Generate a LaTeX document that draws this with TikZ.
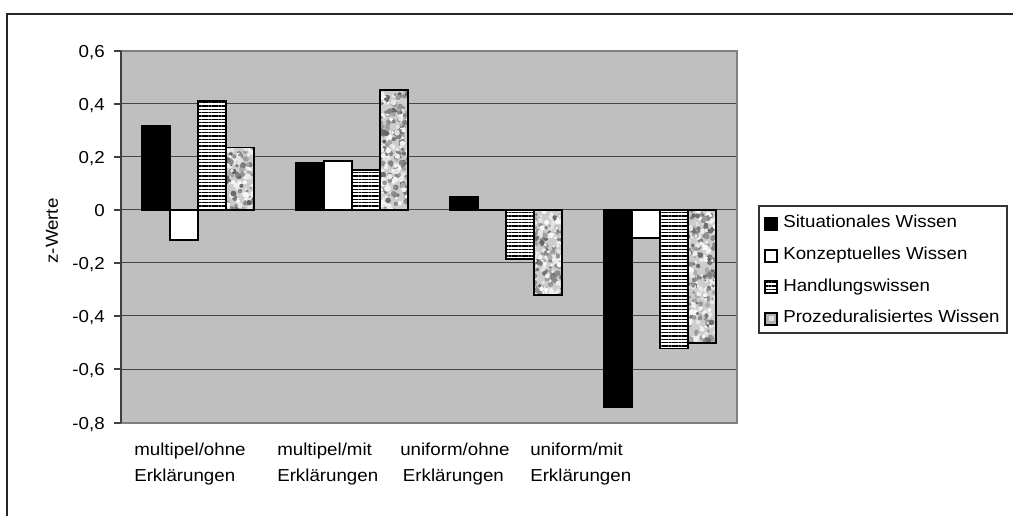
\documentclass[tikz,border=0pt]{standalone}
\usepackage{fontspec}
\setmainfont{Liberation Sans}[FakeStretch=1.08]
\usetikzlibrary{patterns.meta}

\tikzset{
  lbl/.style={font=\fontsize{13}{19.5}\selectfont, inner sep=0pt},
  gridline/.style={draw=black!72, line width=0.75pt},
  bar/.style={draw=black, line width=1.1pt},
  sitbar/.style={bar, fill=black},
  konbar/.style={bar, fill=white},
  handbar/.style={bar, preaction={fill=white}, pattern={Lines[angle=0,distance=2.5pt,line width=1.1pt]}},
  legmark/.style={line width=0.9pt},
}

% z-Wert -> pixel row (0 at 210, 0.2 per 53 px)
\newcommand\zrow[1]{210-265*#1}
% textured bar for Prozeduralisiertes Wissen
\newcommand\procbar[2]{%
  \begin{scope}
    \clip (#1,210) rectangle ({#1+28},{\zrow{#2}});
    \fill[black!20] (#1,210) rectangle ({#1+28},{\zrow{#2}});
    \pgfmathsetmacro\nblob{int(10+520*abs(#2))}
    \foreach \k in {1,...,\nblob}{
      \pgfmathsetmacro\shade{rnd<0.55 ? int(32+30*rnd) : int(2+10*rnd)}
      \fill[black!\shade] ({#1+28*rnd},{210-265*#2*rnd}) circle[radius={1.3+1.7*rnd}];
    }
  \end{scope}
  \draw[bar] (#1,210) rectangle ({#1+28},{\zrow{#2}});
}

\begin{document}
\begin{tikzpicture}[x=0.75pt,y=-0.75pt]
  \useasboundingbox (0,0) rectangle (1013,516);
  \pgfmathsetseed{4711}
  % outer frame (cut off right and below)
  \draw[black!85, line width=1.1pt] (7,600) -- (7,14) -- (1100,14);

  % plot area
  \fill[black!25] (121,51) rectangle (737,423);
  \foreach \y in {104,157,210,263,316,369}
    \draw[gridline] (121,\y) -- (737,\y);
  \draw[black!50, line width=1.1pt] (121,51) -- (737,51) -- (737,423) -- (121,423);
  \draw[black!75, line width=0.9pt] (121,51) -- (121,423);

  % y axis ticks and labels
  \foreach \y/\txt [count=\i] in {51/{0,6},104/{0,4},157/{0,2},210/0,263/{-0,2},316/{-0,4},369/{-0,6},423/{-0,8}}{
    \draw[black!75, line width=0.9pt] (114,\y) -- (121,\y);
    \node[lbl, anchor=base east] (tick\i) at (105,{\y+6.2}) {\txt};
  }
  \node[lbl, rotate=90] (ylab) at (52,231) {z-Werte};

  % bars: group g starts at 142+154*g
  \foreach \g/\a/\b/\c/\d in {0/0.318/-0.113/0.412/0.235, 1/0.177/0.185/0.151/0.453,
                               2/0.049/0/-0.185/-0.32, 3/-0.746/-0.106/-0.523/-0.502}{
    \pgfmathsetmacro\gx{142+154*\g}
    \draw[sitbar] (\gx,210) rectangle ({\gx+28},{\zrow{\a}});
    \draw[konbar] ({\gx+28},210) rectangle ({\gx+56},{\zrow{\b}});
    \draw[handbar] ({\gx+56},210) rectangle ({\gx+84},{\zrow{\c}});
    \procbar{\gx+84}{\d}
  }

  % category labels
  \node[lbl, anchor=north west, align=left] (cat1) at (134,442.5) {multipel/ohne\\Erklärungen};
  \node[lbl, anchor=north west, align=left] (cat2) at (277,442.5) {multipel/mit\\Erklärungen};
  \node[lbl, anchor=north west, align=left] (cat3) at (400,442.5) {uniform/ohne\\\hspace{2pt}Erklärungen};
  \node[lbl, anchor=north west, align=left] (cat4) at (530,442.5) {uniform/mit\\Erklärungen};

  % legend
  \draw[black!80, line width=0.8pt] (759,206) rectangle (1007,333);
  \draw[legmark, fill=black] (765,218) rectangle (777,230);
  \draw[legmark, fill=white] (765,250) rectangle (777,262);
  \draw[legmark, preaction={fill=white}, pattern={Lines[angle=0,distance=2.5pt,line width=0.9pt]}] (765,281) rectangle (777,293);
  \draw[legmark, fill=black!30] (765,313) rectangle (777,325);
  \fill[black!12] (768.5,316.5) rectangle (773.5,321.5);
  \node[lbl, anchor=base west] (leg1) at (783,227.5) {Situationales Wissen};
  \node[lbl, anchor=base west] (leg2) at (783,259.5) {Konzeptuelles Wissen};
  \node[lbl, anchor=base west] (leg3) at (783,291.3) {Handlungswissen};
  \node[lbl, anchor=base west] (leg4) at (783,322.9) {Prozeduralisiertes Wissen};
\end{tikzpicture}
\end{document}
